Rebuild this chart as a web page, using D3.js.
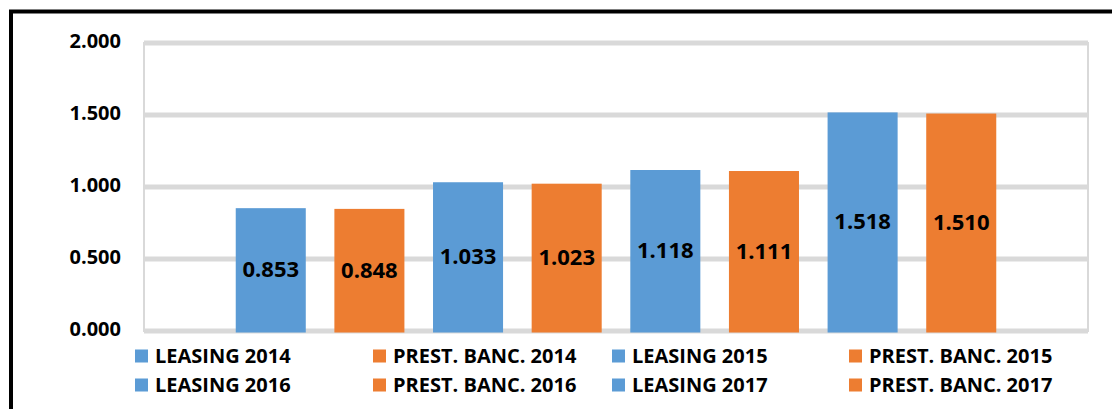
<!DOCTYPE html>
<html>
<head>
<meta charset="utf-8">
<script src="https://cdn.jsdelivr.net/npm/d3@7"></script>
<style>
  body { margin: 0; background: #fff; }
  svg text { font-family: "Open Sans", sans-serif; font-weight: bold; fill: #000; }
</style>
</head>
<body>
<script>
var series = ["LEASING 2014", "PREST. BANC. 2014", "LEASING 2015", "PREST. BANC. 2015",
              "LEASING 2016", "PREST. BANC. 2016", "LEASING 2017", "PREST. BANC. 2017"];
var values = [0.853, 0.848, 1.033, 1.023, 1.118, 1.111, 1.518, 1.510];
var seriesColors = ["#5B9BD5", "#ED7D31", "#5B9BD5", "#ED7D31",
                    "#5B9BD5", "#ED7D31", "#5B9BD5", "#ED7D31"];
var yTicks = [0, 0.5, 1, 1.5, 2];

var w = 1112;
var h = 409;
var plotLeft = 144, plotRight = 1088, plotTop = 43, plotBottom = 331;

var svg = d3.select("body")
    .append("svg")
    .attr("width", w)
    .attr("height", h);

// outer frame (black, only left/top visible)
svg.append("path")
    .attr("d", "M11,409 L11,11.5 L1112,11.5")
    .attr("fill", "none")
    .attr("stroke", "#000")
    .attr("stroke-width", 4);

var yScale = d3.scaleLinear()
    .domain([0, 2])
    .range([plotBottom, plotTop]);

var xScale = d3.scaleBand()
    .domain(series)
    .range([plotLeft, plotRight])
    .paddingInner(0.29)
    .paddingOuter(0.93);

// gridlines
svg.selectAll("line.grid")
    .data(yTicks)
    .enter()
    .append("line")
    .attr("class", "grid")
    .attr("x1", plotLeft)
    .attr("x2", plotRight)
    .attr("y1", function (d) { return yScale(d); })
    .attr("y2", function (d) { return yScale(d); })
    .attr("stroke", "#D9D9D9")
    .attr("stroke-width", 5);

// plot area frame
svg.append("rect")
    .attr("x", plotLeft)
    .attr("y", plotTop)
    .attr("width", plotRight - plotLeft)
    .attr("height", plotBottom - plotTop)
    .attr("fill", "none")
    .attr("stroke", "#D9D9D9")
    .attr("stroke-width", 2);

// y axis labels
var yAxis = d3.axisLeft(yScale)
    .tickValues(yTicks)
    .tickFormat(d3.format(".3f"))
    .tickSize(0)
    .tickPadding(23);

var yG = svg.append("g")
    .attr("transform", "translate(" + plotLeft + ",0)")
    .call(yAxis);
yG.select(".domain").remove();
yG.selectAll("text")
    .attr("font-size", 20)
    .attr("font-family", null)
    .attr("dy", "0.2em");

// bars
svg.selectAll("rect.bar")
    .data(values)
    .enter()
    .append("rect")
    .attr("class", "bar")
    .attr("x", function (d, i) { return xScale(series[i]); })
    .attr("width", xScale.bandwidth())
    .attr("y", function (d) { return yScale(d); })
    .attr("height", function (d) { return yScale(0) - yScale(d) + 1.5; })
    .attr("fill", function (d, i) { return seriesColors[i]; });

// value labels
svg.selectAll("text.val")
    .data(values)
    .enter()
    .append("text")
    .attr("class", "val")
    .attr("x", function (d, i) { return xScale(series[i]) + xScale.bandwidth() / 2; })
    .attr("y", function (d) { return (yScale(d) + yScale(0)) / 2; })
    .attr("dy", "0.35em")
    .attr("text-anchor", "middle")
    .attr("font-size", 22)
    .text(function (d) { return d3.format(".3f")(d); });

// legend, 4 columns x 2 rows
var legendX = [135, 373, 612, 849];
var legendY = [356, 385];
var leg = svg.selectAll("g.leg")
    .data(series)
    .enter()
    .append("g")
    .attr("class", "leg")
    .attr("transform", function (d, i) {
        return "translate(" + legendX[i % 4] + "," + legendY[Math.floor(i / 4)] + ")";
    });

leg.append("rect")
    .attr("x", 0)
    .attr("y", -6.5)
    .attr("width", 13)
    .attr("height", 13)
    .attr("fill", function (d, i) { return seriesColors[i]; });

leg.append("text")
    .attr("x", 20)
    .attr("dy", "0.36em")
    .attr("font-size", 20)
    .text(function (d) { return d; });
</script>
</body>
</html>
